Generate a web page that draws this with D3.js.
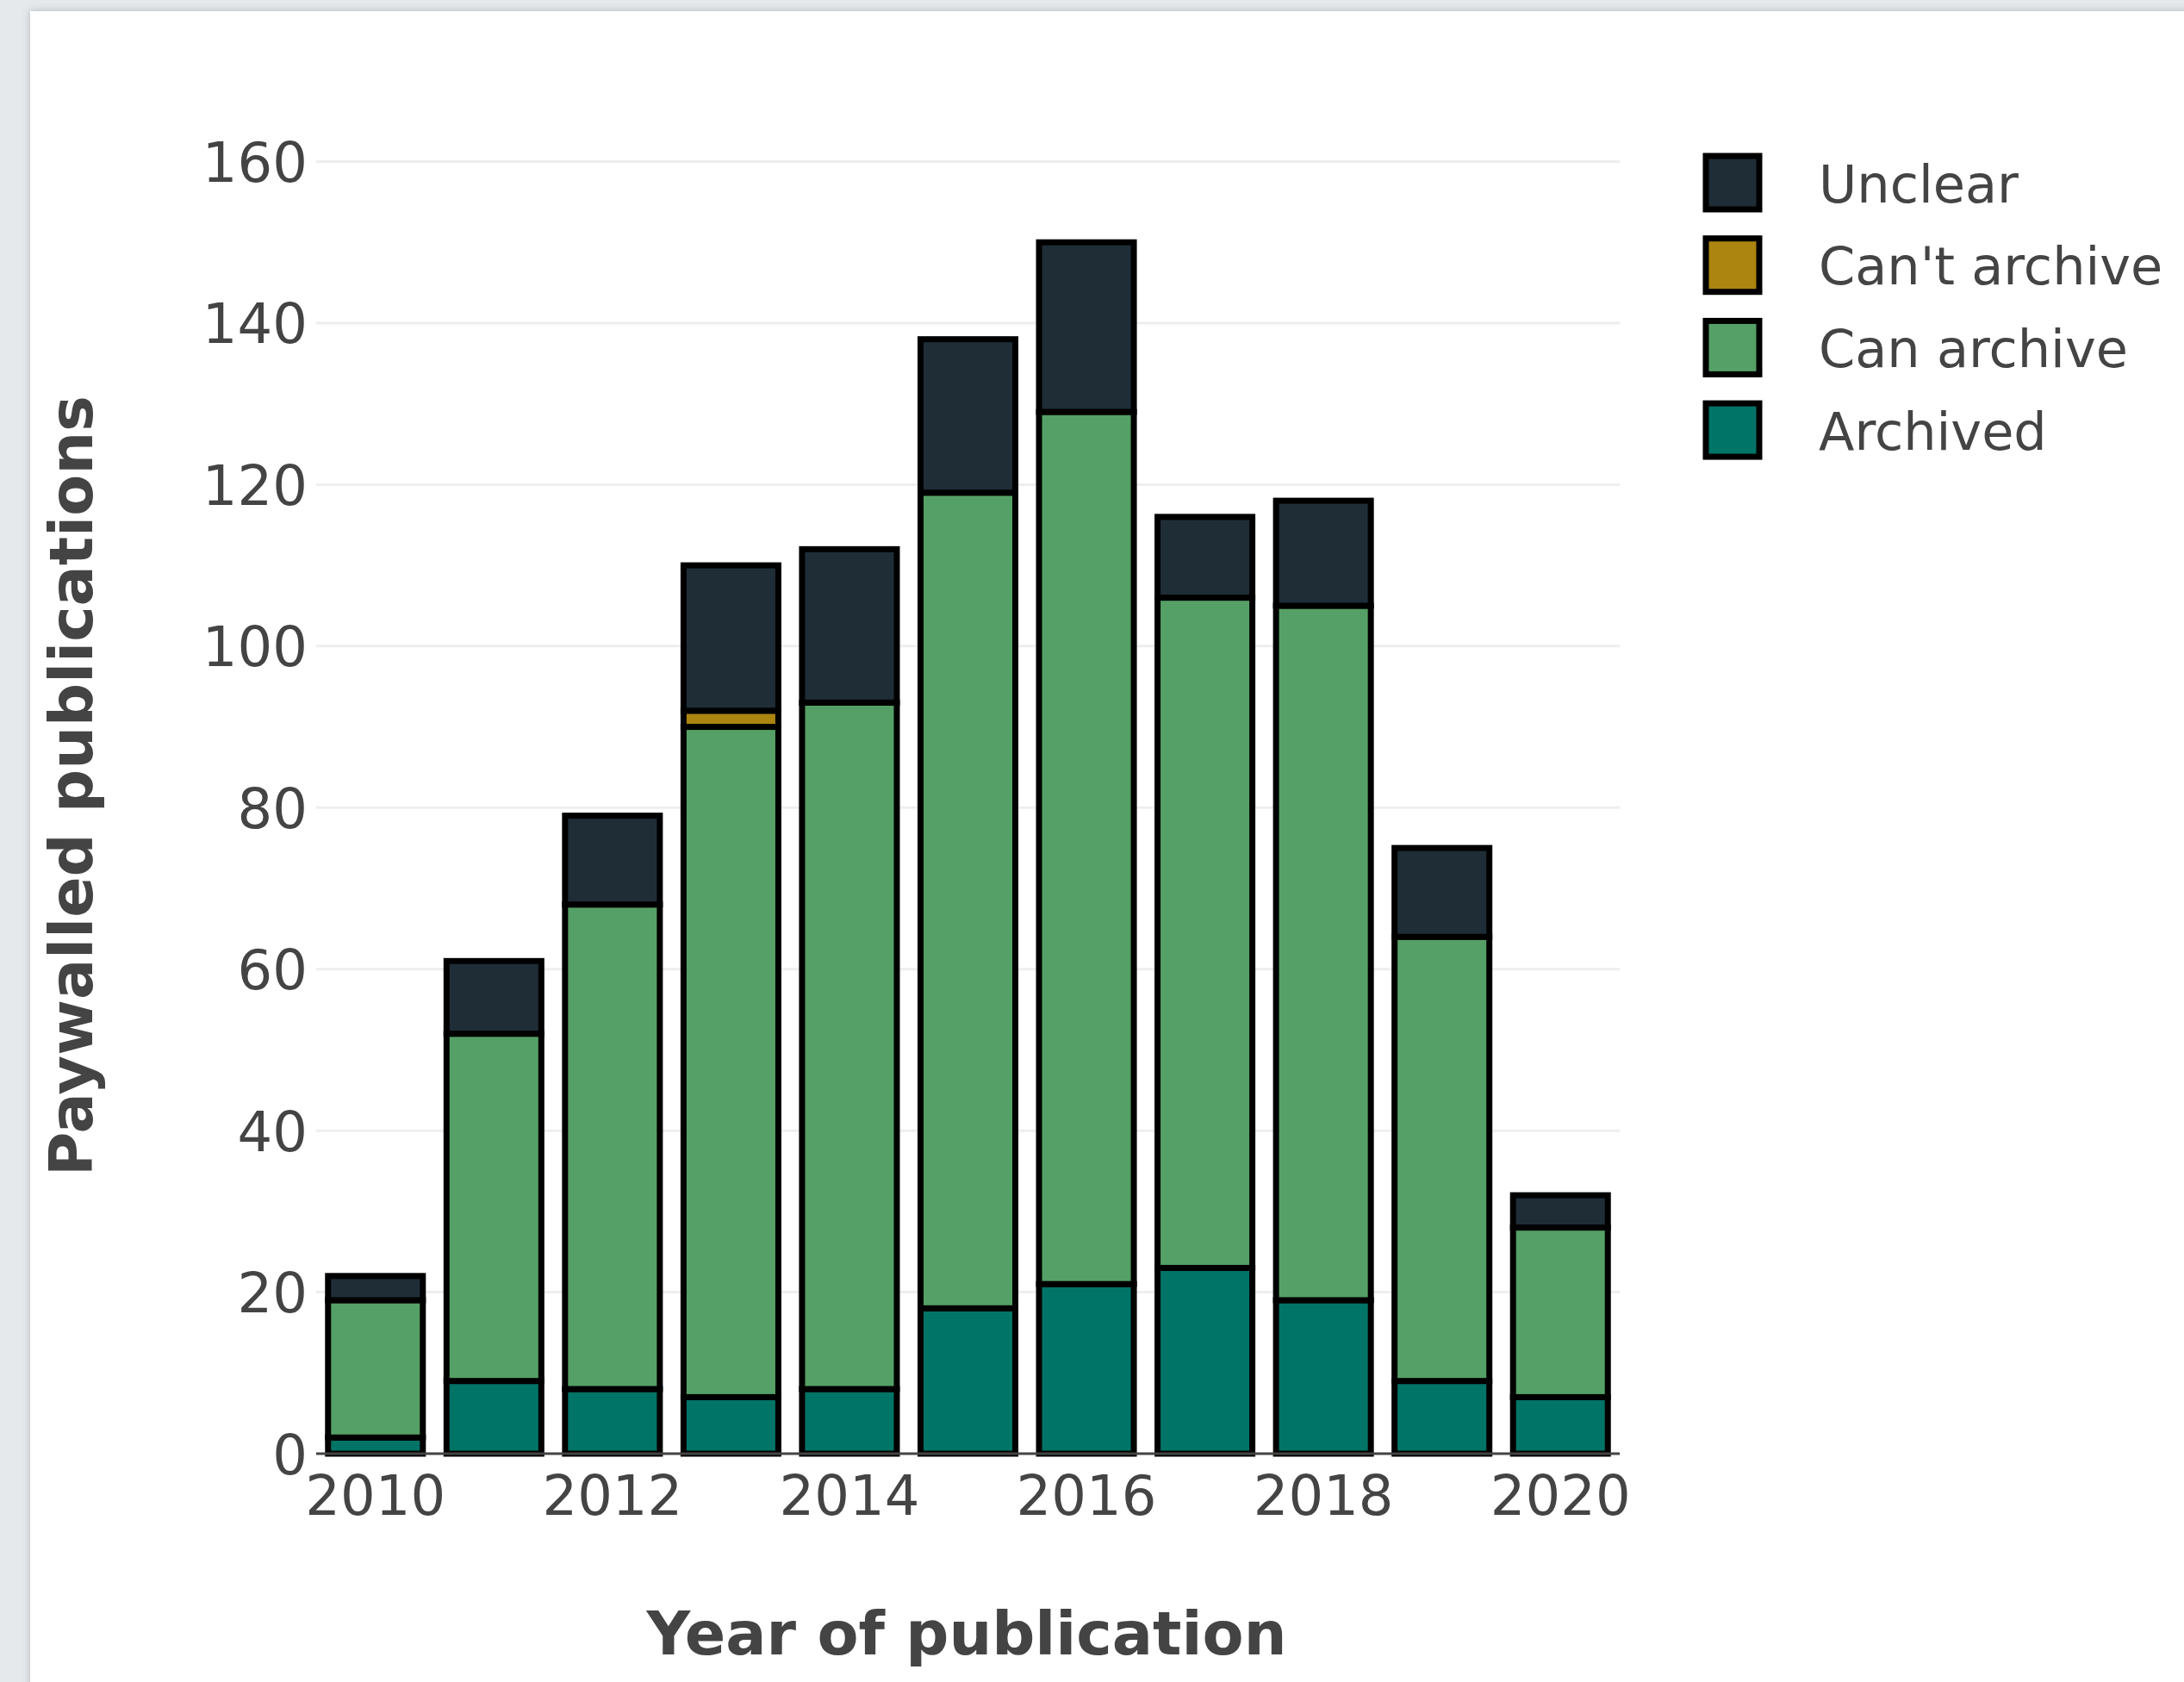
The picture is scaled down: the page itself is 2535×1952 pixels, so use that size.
<!DOCTYPE html>
<html>
<head>
<meta charset="utf-8">
<script src="https://cdn.jsdelivr.net/npm/d3@7"></script>
<style>
	body { margin: 0; background: #e6e9ec; }
	svg { display: block; }
</style>
</head>
<body>
<div id="chart"></div>
<script>

	/* --------------------- data ---------------------- */

	let years = [2010, 2011, 2012, 2013, 2014, 2015, 2016, 2017, 2018, 2019, 2020];
	let archived = [2, 9, 8, 7, 8, 18, 21, 23, 19, 9, 7];
	let canArchive = [17, 43, 60, 83, 85, 101, 108, 83, 86, 55, 21];
	let cantArchive = [0, 0, 0, 2, 0, 0, 0, 0, 0, 0, 0];
	let unclear = [3, 9, 11, 18, 19, 19, 21, 10, 13, 11, 4];

	let seriesNames = ['Archived', 'Can archive', "Can't archive", 'Unclear'];
	let seriesColors = ['#007466', '#55a066', '#ab8510', '#1f2d37'];

	let yTicks = [0, 20, 40, 60, 80, 100, 120, 140, 160];
	let xTicks = [2010, 2012, 2014, 2016, 2018, 2020];

	/* --------------------- chart ---------------------- */

	function drawChart() {
		let width = 2535;
		let height = 1952;
		let font = 'DejaVu Sans, Verdana, sans-serif';

		let svg = d3.select('#chart')
			.append('svg')
			.attr('width', width)
			.attr('height', height);

		// card shadow
		let defs = svg.append('defs');
		defs.append('filter')
			.attr('id', 'shadow')
			.attr('x', '-5%').attr('y', '-5%')
			.attr('width', '110%').attr('height', '110%')
			.append('feDropShadow')
			.attr('dx', 0).attr('dy', 0)
			.attr('stdDeviation', 5)
			.attr('flood-color', '#000')
			.attr('flood-opacity', 0.22);

		svg.append('rect')
			.attr('width', width).attr('height', height)
			.attr('fill', '#e6e9ec');

		svg.append('rect')
			.attr('x', 35).attr('y', 13)
			.attr('width', width + 40).attr('height', height + 40)
			.attr('fill', '#ffffff')
			.attr('filter', 'url(#shadow)');

		// one row per year, keyed by series name
		let rows = years.map((year, i) => {
			let row = {year: year};
			row[seriesNames[0]] = archived[i];
			row[seriesNames[1]] = canArchive[i];
			row[seriesNames[2]] = cantArchive[i];
			row[seriesNames[3]] = unclear[i];
			return row;
		});

		let stacked = d3.stack().keys(seriesNames)(rows);

		let x = d3.scaleBand()
			.domain(years)
			.range([367, 1880])
			.paddingInner(0.2)
			.paddingOuter(0.1);

		let y = d3.scaleLinear()
			.domain([0, 160])
			.range([1687, 187.5]);

		// gridlines
		svg.append('g')
			.selectAll('line')
			.data(yTicks.filter(d => d > 0))
			.enter().append('line')
				.attr('x1', 367).attr('x2', 1880)
				.attr('y1', d => y(d)).attr('y2', d => y(d))
				.attr('stroke', '#eeeeee')
				.attr('stroke-width', 3);

		// y tick labels
		svg.append('g')
			.selectAll('text')
			.data(yTicks)
			.enter().append('text')
				.attr('x', 357)
				.attr('y', d => y(d) + 23.5)
				.attr('text-anchor', 'end')
				.attr('font-family', font)
				.attr('font-size', 64)
				.attr('fill', '#444')
				.text(d => d);

		// stacked bars
		let layers = svg.append('g')
			.selectAll('g')
			.data(stacked)
			.enter().append('g')
				.attr('fill', (d, i) => seriesColors[i]);

		layers.selectAll('rect')
			.data(d => d.filter(p => p[1] - p[0] > 0))
			.enter().append('rect')
				.attr('x', d => x(d.data.year))
				.attr('width', x.bandwidth())
				.attr('y', d => y(d[1]))
				.attr('height', d => y(d[0]) - y(d[1]))
				.attr('stroke', '#000')
				.attr('stroke-width', 7);

		// zero line
		svg.append('line')
			.attr('x1', 367).attr('x2', 1880)
			.attr('y1', y(0)).attr('y2', y(0))
			.attr('stroke', '#444')
			.attr('stroke-width', 3);

		// x tick labels
		svg.append('g')
			.selectAll('text')
			.data(xTicks)
			.enter().append('text')
				.attr('x', d => x(d) + x.bandwidth() / 2)
				.attr('y', 1758)
				.attr('text-anchor', 'middle')
				.attr('font-family', font)
				.attr('font-size', 64)
				.attr('fill', '#444')
				.text(d => d);

		// axis titles
		svg.append('text')
			.attr('x', 1122)
			.attr('y', 1920)
			.attr('text-anchor', 'middle')
			.attr('font-family', font)
			.attr('font-weight', 'bold')
			.attr('font-size', 70)
			.attr('fill', '#444')
			.text('Year of publication');

		svg.append('text')
			.attr('transform', 'translate(107,912) rotate(-90)')
			.attr('text-anchor', 'middle')
			.attr('font-family', font)
			.attr('font-weight', 'bold')
			.attr('font-size', 70)
			.attr('fill', '#444')
			.text('Paywalled publications');

		// legend, top trace first like plotly does for stacks
		let legendOrder = seriesNames.map((name, i) => ({name: name, color: seriesColors[i]})).reverse();

		let items = svg.append('g')
			.selectAll('g')
			.data(legendOrder)
			.enter().append('g')
				.attr('transform', (d, i) => 'translate(2011,' + (212 + i * 95.7) + ')');

		items.append('rect')
			.attr('x', -31).attr('y', -31)
			.attr('width', 62).attr('height', 62)
			.attr('fill', d => d.color)
			.attr('stroke', '#000')
			.attr('stroke-width', 7);

		items.append('text')
			.attr('x', 100)
			.attr('y', 22.5)
			.attr('font-family', font)
			.attr('font-size', 60.5)
			.attr('fill', '#444')
			.text(d => d.name);
	}

	drawChart();
</script>
</body>
</html>
